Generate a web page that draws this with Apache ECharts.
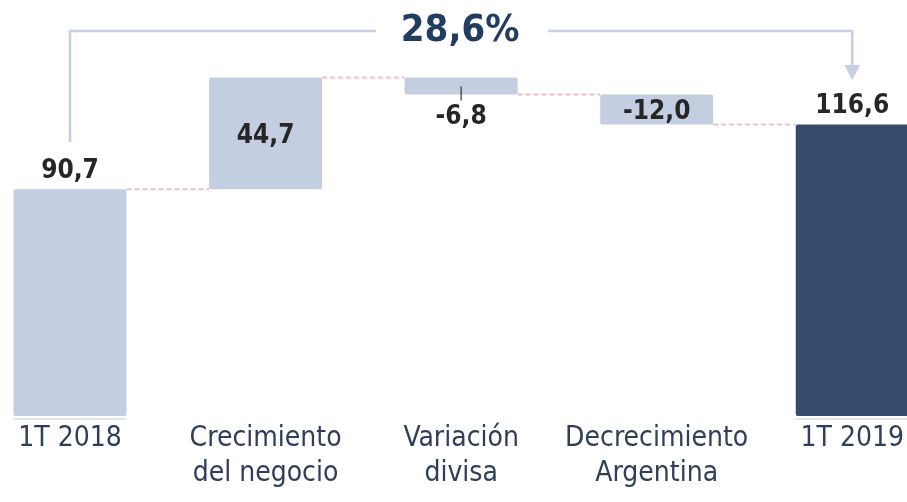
<!DOCTYPE html>
<html>
<head>
<meta charset="utf-8">
<script src="https://cdn.jsdelivr.net/npm/echarts@6/dist/echarts.min.js"></script>
<style>
html,body{margin:0;padding:0;background:#fff;}
#chart{width:907px;height:502px;}
</style>
</head>
<body>
<div id="chart"></div>
<script>
// ---- data ----
const categories = ['1T 2018', 'Crecimiento\ndel negocio', 'Variación\ndivisa', 'Decrecimiento\nArgentina', '1T 2019'];
const changes = [90.7, 44.7, -6.8, -12.0, 116.6];
const isTotal = [true, false, false, false, true];
const valueLabels = ['90,7', '44,7', '-6,8', '-12,0', '116,6'];
const labelPlacement = ['top', 'inside', 'bottom', 'inside', 'top'];
const totalGrowthLabel = '28,6%';

// ---- styles ----
const LIGHT = '#c3cee1';
const DARK = '#364b6c';
const BAR_W = 113;
const FONT = '"DejaVu Sans Condensed", "DejaVu Sans", sans-serif';

// ---- waterfall computation ----
const base = [], heights = [], levels = [];
let run = 0;
changes.forEach((v, i) => {
  if (isTotal[i]) { base.push(0); heights.push(v); run = v; }
  else if (v >= 0) { base.push(run); heights.push(v); run += v; }
  else { run += v; base.push(run); heights.push(-v); }
  levels.push(run);
});
const connectorData = levels.slice(0, -1).map((l, i) => [i, l]);

const chart = echarts.init(document.getElementById('chart'), null, {renderer: 'canvas'});

const barData = heights.map((h, i) => ({
  value: h,
  itemStyle: {color: i === changes.length - 1 ? DARK : LIGHT, borderRadius: 2},
  label: {
    show: true,
    position: labelPlacement[i],
    distance: labelPlacement[i] === 'bottom' ? 10 : 5,
    offset: labelPlacement[i] === 'inside' ? [0, 3] : [0, 0],
    formatter: valueLabels[i]
  }
}));

chart.setOption({
  animation: false,
  backgroundColor: '#ffffff',
  grid: {left: 70, right: 51, top: 16, bottom: 86, containLabel: false},
  xAxis: {
    type: 'category',
    boundaryGap: false,
    data: categories,
    axisLine: {show: false},
    axisTick: {show: false},
    axisLabel: {
      interval: 0,
      margin: 5,
      fontFamily: FONT,
      fontSize: 28,
      lineHeight: 35,
      color: '#2f3e5a'
    }
  },
  yAxis: {type: 'value', min: 0, max: 160, show: false},
  series: [
    {
      name: 'base', type: 'bar', stack: 'w', barWidth: BAR_W,
      itemStyle: {color: 'transparent'}, data: base, silent: true
    },
    {
      name: 'value', type: 'bar', stack: 'w', barWidth: BAR_W,
      data: barData,
      label: {
        fontFamily: FONT, fontWeight: 'bold', fontSize: 26, color: '#262626'
      },
      z: 3
    },
    {
      name: 'connectors', type: 'custom', data: connectorData, z: 1, silent: true,
      renderItem: function (params, api) {
        const i = api.value(0), lvl = api.value(1);
        const p1 = api.coord([i, lvl]);
        const p2 = api.coord([i + 1, lvl]);
        return {
          type: 'line',
          shape: {x1: p1[0] + BAR_W / 2, y1: p1[1], x2: p2[0] - BAR_W / 2, y2: p1[1]},
          style: {stroke: '#eebfcb', lineWidth: 2, lineDash: [5, 3]}
        };
      }
    },
    {
      name: 'under', type: 'custom', z: 1, silent: true,
      data: categories.map((c, i) => [i, 0]).filter((d, i) => isTotal[i]),
      renderItem: function (params, api) {
        const p = api.coord([api.value(0), 0]);
        return {
          type: 'rect',
          shape: {x: p[0] - BAR_W / 2, y: p[1] + 2, width: BAR_W, height: 2},
          style: {fill: '#dfe5ef'}
        };
      }
    },
    {
      name: 'tick', type: 'custom', z: 4, silent: true,
      data: changes.map((v, i) => [i, base[i], base[i] + heights[i]]).filter((d, i) => labelPlacement[i] === 'bottom'),
      renderItem: function (params, api) {
        const pBot = api.coord([api.value(0), api.value(1)]);
        const pTop = api.coord([api.value(0), api.value(2)]);
        return {
          type: 'line',
          shape: {x1: pBot[0], y1: pTop[1] + 9, x2: pBot[0], y2: pBot[1] + 6},
          style: {stroke: '#333', lineWidth: 1.2}
        };
      }
    }
  ]
});

// ---- bracket annotation ----
const x0 = chart.convertToPixel({xAxisIndex: 0}, 0);
const xMid = chart.convertToPixel({xAxisIndex: 0}, 2);
const xN = chart.convertToPixel({xAxisIndex: 0}, categories.length - 1);
const yTop = 31, gapL = xMid - 85, gapR = xMid + 87;
const BR = '#c5d0e2';
chart.setOption({
  graphic: [
    {type: 'polyline', shape: {points: [[x0, 142], [x0, yTop], [gapL, yTop]]}, style: {stroke: BR, lineWidth: 2.6, fill: null}},
    {type: 'polyline', shape: {points: [[gapR, yTop], [xN, yTop], [xN, 66]]}, style: {stroke: BR, lineWidth: 2.6, fill: null}},
    {type: 'polygon', shape: {points: [[xN - 8, 65], [xN + 8, 65], [xN, 80]]}, style: {fill: BR}},
    {type: 'text', x: xMid - 1, y: 31, style: {
      text: totalGrowthLabel, fill: '#233d60', font: 'bold 38px ' + FONT,
      textAlign: 'center', textVerticalAlign: 'middle'
    }}
  ]
});
</script>
</body>
</html>
